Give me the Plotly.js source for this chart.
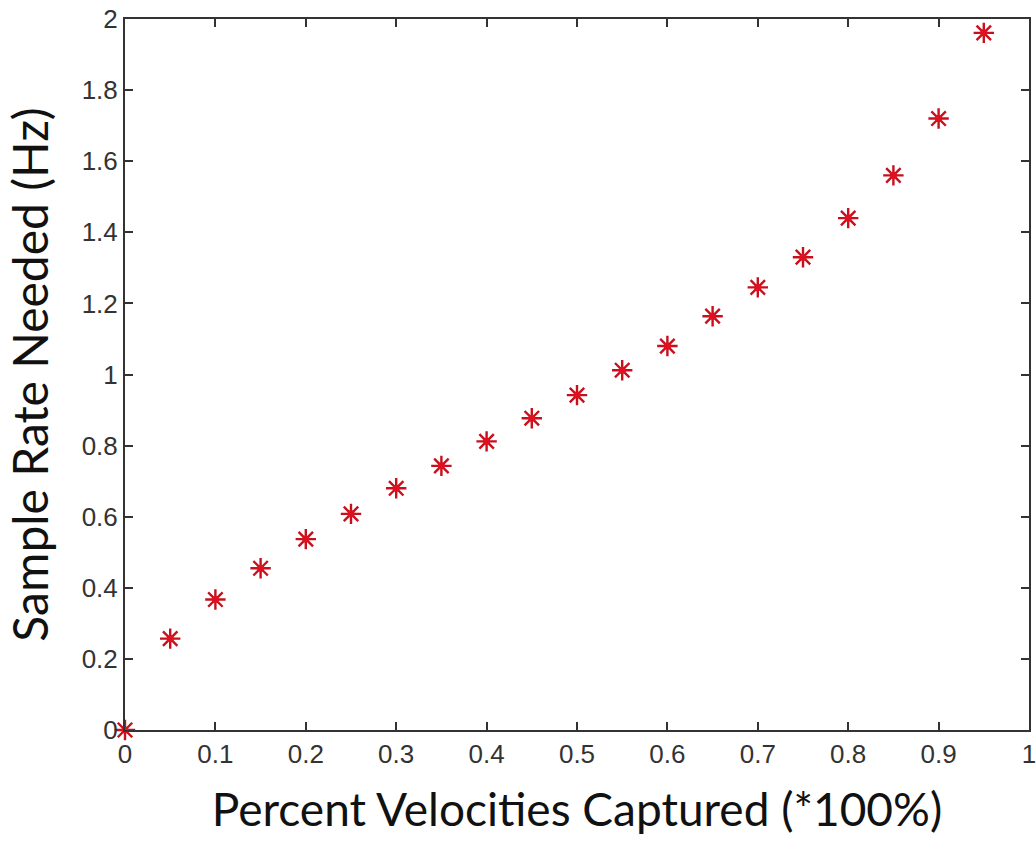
<!DOCTYPE html>
<html>
<head>
<meta charset="utf-8">
<script src="https://cdn.plot.ly/plotly-3.0.1.min.js"></script>
<style>html,body{margin:0;padding:0;background:#fff;}#chart{width:1036px;height:851px;}</style>
</head>
<body>
<div id="chart"></div>
<script>
const percentCaptured = [0, 0.05, 0.1, 0.15, 0.2, 0.25, 0.3, 0.35, 0.4, 0.45, 0.5, 0.55, 0.6, 0.65, 0.7, 0.75, 0.8, 0.85, 0.9, 0.95];
const sampleRate = [0, 0.257, 0.367, 0.455, 0.537, 0.608, 0.680, 0.743, 0.812, 0.877, 0.942, 1.012, 1.080, 1.164, 1.245, 1.330, 1.440, 1.560, 1.720, 1.961];
const xTicks = [0, 0.1, 0.2, 0.3, 0.4, 0.5, 0.6, 0.7, 0.8, 0.9, 1];
const xTickLabels = ['0', '0.1', '0.2', '0.3', '0.4', '0.5', '0.6', '0.7', '0.8', '0.9', '1'];
const yTicks = [0, 0.2, 0.4, 0.6, 0.8, 1, 1.2, 1.4, 1.6, 1.8, 2];
const yTickLabels = ['0', '0.2', '0.4', '0.6', '0.8', '1', '1.2', '1.4', '1.6', '1.8', '2'];

const trace = {
  x: percentCaptured,
  y: sampleRate,
  type: 'scatter',
  mode: 'markers',
  cliponaxis: false,
  marker: {symbol: 'asterisk-open', size: 17, color: '#c8101c', line: {color: '#c8101c', width: 2.4}}
};
const trace2 = {
  x: percentCaptured,
  y: sampleRate,
  type: 'scatter',
  mode: 'markers',
  cliponaxis: false,
  marker: {symbol: 'circle', size: 7, color: '#e01020'}
};

const tickFont = {family: 'Liberation Sans, Arial, sans-serif', size: 26, color: '#333'};
const layout = {
  width: 1036, height: 851,
  paper_bgcolor: '#fff', plot_bgcolor: '#fff',
  showlegend: false,
  margin: {l: 125, r: 7, t: 19, b: 121},
  xaxis: {
    range: [0, 1], tickmode: 'array', tickvals: xTicks, ticktext: xTickLabels,
    ticks: 'inside', ticklen: 8, tickwidth: 2, tickcolor: '#333',
    showline: true, linecolor: '#333', linewidth: 2, mirror: 'ticks',
    showgrid: false, zeroline: false, tickfont: tickFont, ticklabeloverflow: 'allow',
    title: {text: 'Percent Velocities Captured (*100%)', font: {family: 'Lato, sans-serif', size: 46, color: '#111'}, standoff: 26}
  },
  yaxis: {
    range: [0, 2], tickmode: 'array', tickvals: yTicks, ticktext: yTickLabels,
    ticks: 'inside', ticklen: 8, tickwidth: 2, tickcolor: '#333',
    showline: true, linecolor: '#333', linewidth: 2, mirror: 'ticks',
    showgrid: false, zeroline: false, tickfont: tickFont, ticklabeloverflow: 'allow',
    title: {text: 'Sample Rate Needed (Hz)', font: {family: 'Lato, sans-serif', size: 48, color: '#111'}, standoff: 18}
  }
};
Plotly.newPlot('chart', [trace, trace2], layout, {displayModeBar: false, staticPlot: true});
</script>
</body>
</html>
